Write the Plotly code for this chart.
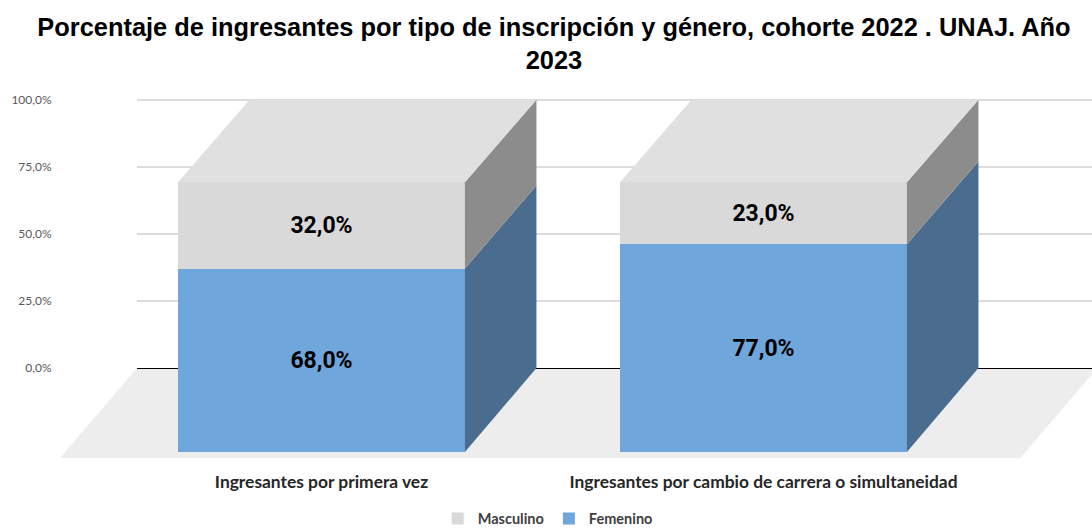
import plotly.graph_objects as go

categories = ["Ingresantes por primera vez", "Ingresantes por cambio de carrera o simultaneidad"]
femenino = [68.0, 77.0]
masculino = [32.0, 23.0]
y_ticks = [0, 25, 50, 75, 100]
y_tick_labels = ["0,0%", "25,0%", "50,0%", "75,0%", "100,0%"]
title_text = "Porcentaje de ingresantes por tipo de inscripción y género, cohorte 2022 . UNAJ. Año<br>2023"

BLUE, BLUE_SIDE = "#6FA6DC", "#4A6C8F"
GREY, GREY_SIDE, GREY_TOP = "#D9D9D9", "#8C8C8C", "#E0E0E0"
FLOOR = "#EDEDED"

W, H = 1092, 529
ML, MT, MB = 137, 96.6, 71
BAR_W = 0.649
DX = 0.1618      # depth of the pseudo-3D box, x units
DY = 31.26       # depth of the pseudo-3D box, y units
FS = 1.005       # front face is a little larger than the back wall
X_RANGE = [-0.4174, 1.7432]
Y_RANGE = [-33.5, 101]
LABEL_FONT = dict(family="Roboto", size=23, color="#000000", weight="bold")


def fy(v):
    return v * FS - DY


def pct(v):
    return f"{v:.1f}".replace(".", ",") + "%"


xs = list(range(len(categories)))
fig = go.Figure()

# side faces and top faces
for i in xs:
    xf = i + BAR_W / 2
    xb = xf + DX
    f, m = femenino[i], masculino[i]
    for lo, hi, col in ((0, f, BLUE_SIDE), (f, f + m, GREY_SIDE)):
        fig.add_trace(go.Scatter(
            x=[xf, xb, xb, xf, xf], y=[fy(lo), lo, hi, fy(hi), fy(lo)],
            mode="lines", line=dict(width=0), fill="toself", fillcolor=col,
            showlegend=False, hoverinfo="skip"))
    xl = i - BAR_W / 2
    top = f + m
    fig.add_trace(go.Scatter(
        x=[xl, xf, xb, xl + DX, xl], y=[fy(top), fy(top), top, top, fy(top)],
        mode="lines", line=dict(width=0), fill="toself", fillcolor=GREY_TOP,
        showlegend=False, hoverinfo="skip"))

# front faces
fig.add_trace(go.Bar(
    name="Masculino", x=xs, width=BAR_W,
    y=[m * FS for m in masculino],
    base=[fy(f) for f in femenino], marker=dict(color=GREY, line=dict(width=0)),
    text=[pct(m) for m in masculino], textposition="inside", insidetextanchor="middle",
    textangle=0, textfont=LABEL_FONT, hoverinfo="skip"))
fig.add_trace(go.Bar(
    name="Femenino", x=xs, width=BAR_W,
    y=[f * FS for f in femenino],
    base=[fy(0)] * len(xs), marker=dict(color=BLUE, line=dict(width=0)),
    text=[pct(f) for f in femenino], textposition="inside", insidetextanchor="middle",
    textangle=0, textfont=LABEL_FONT, hoverinfo="skip"))


def px(x):
    return (x - X_RANGE[0]) / (X_RANGE[1] - X_RANGE[0])


def py(y):
    return (y - Y_RANGE[0]) / (Y_RANGE[1] - Y_RANGE[0])


# floor of the box (paper coordinates so it can run past the axes)
floor_low = -33.5
x0 = X_RANGE[0]
x1 = 1.7432 + 0.012
x_front_l = x0 - 0.1742
x_front_r = 1.5810
path = (f"M{px(x_front_l)},{py(floor_low)} L{px(x0)},{py(0)} L{px(x1)},{py(0)} "
        f"L{px(x_front_r)},{py(floor_low)} Z")
fig.add_shape(type="path", path=path, xref="paper", yref="paper",
              fillcolor=FLOOR, line=dict(width=0), layer="below")

fig.update_layout(
    width=W, height=H, barmode="overlay", bargap=0,
    paper_bgcolor="#FFFFFF", plot_bgcolor="rgba(0,0,0,0)",
    margin=dict(l=ML, r=0, t=MT, b=MB, autoexpand=False),
    title=dict(text=title_text, x=554 / W, xanchor="center", xref="container",
               y=0.9326, yanchor="top",
               font=dict(family="Liberation Sans", size=25.4, color="#000000", weight="bold")),
    legend=dict(orientation="h", x=0.43, xanchor="center", y=-0.168, yanchor="middle",
                font=dict(family="Lato", size=14.5, color="#404040", weight="bold"),
                bgcolor="rgba(0,0,0,0)"),
    xaxis=dict(range=X_RANGE, tickmode="array", tickvals=xs, ticktext=categories,
               showgrid=False, zeroline=False, showline=False,
               ticks="outside", ticklen=8, tickcolor="rgba(0,0,0,0)",
               tickfont=dict(family="Lato", size=17.4, color="#262626", weight="bold")),
    yaxis=dict(range=Y_RANGE, tickmode="array", tickvals=y_ticks, ticktext=y_tick_labels,
               showgrid=True, gridcolor="#DCDCDC", gridwidth=1.5,
               zeroline=True, zerolinecolor="#000000", zerolinewidth=1, showline=False,
               ticks="outside", ticklen=82, tickcolor="rgba(0,0,0,0)",
               tickfont=dict(family="Lato", size=12, color="#595959")),
)

fig.write_html("out.html", config=dict(displayModeBar=False),
               post_script="document.body.style.margin='0';")
